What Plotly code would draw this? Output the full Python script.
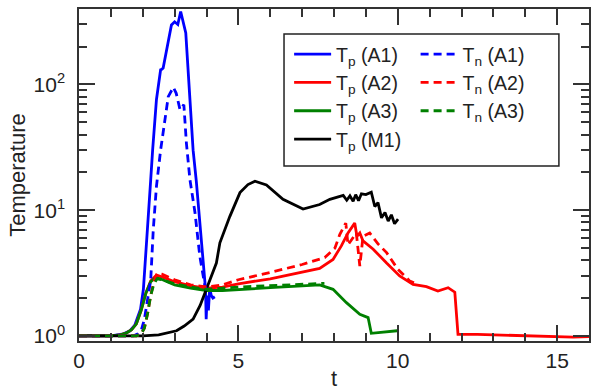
import plotly.graph_objects as go

# Tp / Tn for runs A1, A2, A3 and Tp for M1
tp_a1_t = [0, 1.0, 1.4, 1.6, 1.75, 1.93, 2.02, 2.12, 2.25, 2.31, 2.43, 2.56, 2.6, 2.64, 2.8, 2.85,
           2.9, 3.0, 3.1, 3.19, 3.26, 3.35, 3.48, 3.58, 3.68, 3.74, 3.8, 3.9, 3.97, 3.99, 4.02,
           4.06, 4.1, 4.15, 4.2, 4.26]
tp_a1_y = [1.0, 1.0, 1.04, 1.1, 1.22, 1.63, 2.35, 5.2, 17.5, 30, 76, 131, 132, 135, 219, 257,
           297, 315, 300, 380, 320, 257, 76, 30, 17, 11, 7, 3.8, 2.35, 1.36, 2.1,
           1.6, 2.4, 2.1, 2.0, 2.05]

tn_a1_t = [0, 1.7, 1.85, 1.96, 2.05, 2.12, 2.25, 2.33, 2.43, 2.56, 2.7, 2.8, 2.96, 3.05, 3.17,
           3.29, 3.37, 3.48, 3.58, 3.64, 3.79, 3.95, 4.02]
tn_a1_y = [1.0, 1.0, 1.04, 1.13, 1.35, 1.73, 2.8, 7, 15.5, 30, 56, 80, 95, 85, 63,
           69, 34, 17.5, 12, 9.5, 4.3, 2.5, 2.3]

tp_a2_t = [0, 1.0, 1.3, 1.5, 1.65, 1.8, 1.95, 2.1, 2.25, 2.43, 2.6, 3.0, 3.5, 4.0, 4.5, 5.0,
           6.0, 7.0, 7.55, 7.97, 8.23, 8.44, 8.65, 8.72, 8.81, 8.91, 9.23, 9.65, 10.06, 10.48,
           10.9, 11.26, 11.58, 11.79, 11.89, 12.5, 13, 13.5, 14, 14.5, 15, 15.5, 16]
tp_a2_y = [1, 1, 1.02, 1.06, 1.12, 1.25, 1.6, 2.2, 2.75, 3.05, 2.95, 2.7, 2.5, 2.4, 2.45, 2.6,
           2.85, 3.2, 3.45, 4.06, 5.2, 6.6, 7.9, 6.2, 6.6, 5.7, 4.9, 3.8, 3.0, 2.57,
           2.47, 2.28, 2.42, 2.23, 1.03, 1.03, 1.02, 1.01, 1.0, 1.0, 0.98, 0.98, 0.99]

tn_a2_t = [0, 1.8, 1.95, 2.05, 2.15, 2.25, 2.35, 2.45, 2.6, 3.0, 3.5, 4.0, 4.5, 5.0, 6.0, 7.0,
           7.71, 8.03, 8.18, 8.37, 8.44, 8.6, 8.7, 8.81, 8.91, 9.12, 9.38, 9.65, 10.0, 10.38, 10.6]
tn_a2_y = [1, 1.0, 1.04, 1.15, 1.5, 2.1, 2.7, 3.15, 3.1, 2.8, 2.55, 2.45, 2.55, 2.8, 3.2, 3.7,
           4.2, 5.0, 6.4, 7.9, 5.3, 6.0, 6.6, 3.6, 6.2, 6.6, 5.4, 4.6, 3.4, 2.73, 2.6]

tp_a3_t = [0, 1.0, 1.3, 1.5, 1.65, 1.8, 1.95, 2.1, 2.25, 2.4, 2.55, 2.7, 3.0, 3.5, 4.0, 4.5,
           5.0, 6.0, 7.0, 7.55, 7.97, 8.39, 8.81, 9.07, 9.17, 9.98]
tp_a3_y = [1.0, 1.0, 1.02, 1.06, 1.12, 1.25, 1.6, 2.2, 2.7, 2.9, 2.85, 2.75, 2.55, 2.4, 2.3, 2.3,
           2.35, 2.42, 2.5, 2.55, 2.35, 1.84, 1.49, 1.4, 1.05, 1.1]

tn_a3_t = [0, 1.8, 1.95, 2.05, 2.15, 2.25, 2.35, 2.45, 2.6, 3.0, 3.5, 4.0, 5.0, 6.0, 7.0, 7.7]
tn_a3_y = [1, 1.0, 1.04, 1.15, 1.5, 2.1, 2.6, 2.85, 2.8, 2.6, 2.45, 2.35, 2.45, 2.5, 2.58, 2.62]

tp_m1_t = [0, 2.0, 2.5, 3.06, 3.3, 3.58, 3.8, 4.0, 4.31, 4.42, 4.73, 5.05, 5.3, 5.52, 5.88, 6.4,
           7.03, 7.55, 7.87, 8.29, 8.4, 8.5, 8.6, 8.68, 8.77, 8.86, 9.0, 9.17, 9.28, 9.38, 9.49,
           9.6, 9.7, 9.8, 9.9, 10.01]
tp_m1_y = [1, 1.0, 1.02, 1.1, 1.2, 1.36, 1.75, 2.35, 3.8, 5.5, 8.9, 13.8, 16, 17, 15.9, 12.2,
           10.2, 11.1, 12.2, 13.1, 12.0, 13.0, 11.8, 13.3, 11.9, 13.5, 13.3, 13.9, 10.7, 11.5, 8.7,
           9.6, 8.2, 9.2, 7.8, 8.5]

x_ticks = [0, 5, 10, 15]
y_ticks = [1, 10, 100]
y_ticktext = ["10<sup>0</sup>", "10<sup>1</sup>", "10<sup>2</sup>"]

BLUE, RED, GREEN, BLACK = "#0000ff", "#ff0000", "#008000", "#000000"
DASH = "8px,5px"
LW = 2.8

fig = go.Figure()
# Tp entries go to the left legend column, Tn entries to the right one
series = [
    (tp_a1_t, tp_a1_y, "T<sub>p</sub> (A1)", BLUE, "solid", "legend"),
    (tp_a2_t, tp_a2_y, "T<sub>p</sub> (A2)", RED, "solid", "legend"),
    (tp_a3_t, tp_a3_y, "T<sub>p</sub> (A3)", GREEN, "solid", "legend"),
    (tp_m1_t, tp_m1_y, "T<sub>p</sub> (M1)", BLACK, "solid", "legend"),
    (tn_a1_t, tn_a1_y, "T<sub>n</sub> (A1)", BLUE, DASH, "legend2"),
    (tn_a2_t, tn_a2_y, "T<sub>n</sub> (A2)", RED, DASH, "legend2"),
    (tn_a3_t, tn_a3_y, "T<sub>n</sub> (A3)", GREEN, DASH, "legend2"),
]
for t, y, name, col, dash, leg in series:
    fig.add_trace(go.Scatter(x=t, y=y, name=name, mode="lines", legend=leg,
                             line=dict(color=col, width=LW, dash=dash)))

axis_common = dict(showline=True, linecolor="#333", linewidth=1.5, mirror="ticks",
                   ticks="inside", ticklen=16, tickwidth=1.5, tickcolor="#333",
                   showgrid=False, zeroline=False, automargin=False,
                   tickfont=dict(family="Liberation Sans", size=21, color="#222"))

leg_common = dict(orientation="v", yanchor="top", xanchor="left", y=0.922,
                  itemwidth=37, bgcolor="rgba(0,0,0,0)", borderwidth=0,
                  font=dict(size=19.5, color="#222"), traceorder="normal")

fig.update_layout(
    width=598, height=391,
    margin=dict(l=79, r=9, t=9, b=50),
    paper_bgcolor="white", plot_bgcolor="white",
    font=dict(family="Liberation Sans", color="#222"),
    xaxis=dict(range=[0, 16], tickvals=x_ticks,
               minor=dict(tickvals=[v for v in range(1, 17) if v % 5], ticks="inside",
                          ticklen=8, tickwidth=1.5, tickcolor="#333"),
               title=dict(text="t", font=dict(size=22), standoff=0),
               **axis_common),
    yaxis=dict(type="log", range=[-0.04, 2.6], tickvals=y_ticks, ticktext=y_ticktext,
               ticklabelstandoff=8,
               minor=dict(tickvals=[m * d for d in (1, 10, 100) for m in range(2, 10)],
                          ticks="inside", ticklen=8, tickwidth=1.5, tickcolor="#333"),
               title=dict(text="Temperature", font=dict(size=22), standoff=2),
               **axis_common),
    legend=dict(x=0.412, **leg_common),
    legend2=dict(x=0.660, **leg_common),
    shapes=[dict(type="rect", xref="paper", yref="paper", x0=0.402, x1=0.941,
                 y0=0.527, y1=0.925, fillcolor="white", layer="above",
                 line=dict(color="#222", width=1.5))],
)

fig.write_html("out.html", config={"displayModeBar": False},
               post_script="document.body.style.margin='0';")
